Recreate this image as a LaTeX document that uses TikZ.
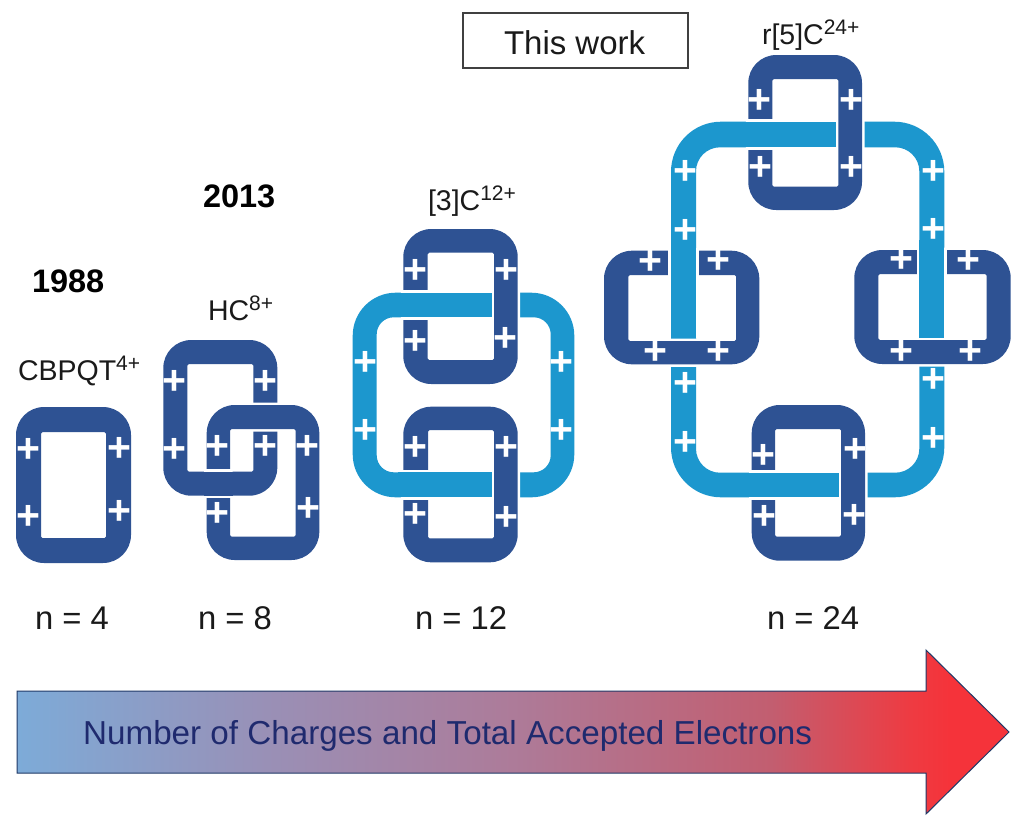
\documentclass[tikz,border=0pt]{standalone}
\usepackage{fontspec}
\setmainfont{Liberation Sans}
\definecolor{ringdark}{HTML}{2E5293}
\definecolor{ringlight}{HTML}{1C97CE}
\definecolor{navytext}{HTML}{1F2A6E}
\definecolor{inktext}{HTML}{1A1A1A}
\definecolor{gradA}{HTML}{7DABD8}
\definecolor{gradB}{HTML}{9A8FB5}
\definecolor{gradC}{HTML}{AD7B99}
\definecolor{gradD}{HTML}{C25E70}
\definecolor{gradE}{HTML}{EE3B42}
\definecolor{gradF}{HTML}{F5333A}
% a shaded path spans only the middle 25bp--75bp of the declared shading
\pgfdeclarehorizontalshading{chargegrad}{100bp}{
  color(0bp)=(gradA);
  color(25bp)=(gradA);
  color(38bp)=(gradB);
  color(50bp)=(gradC);
  color(63bp)=(gradD);
  color(70bp)=(gradE);
  color(72bp)=(gradF);
  color(100bp)=(gradF)}
\tikzset{
  x=1pt,y=-1pt,
  plussign/.style={inner sep=0pt,outer sep=0pt,xshift=0.7pt,text=white,font=\fontsize{41}{41}\selectfont\bfseries},
  textlabel/.style={inner sep=0pt,outer sep=0pt,anchor=base west,text=inktext,font=\fontsize{#1}{#1}\selectfont},
  yearlabel/.style={inner sep=0pt,outer sep=0pt,anchor=base west,text=black,font=\fontsize{32.5}{32.5}\selectfont\bfseries},
  halo/.style={draw=white,line width=5pt},
}
% outer box, outer radius, inner box, inner radius
\newcommand\ringshape[9][ringdark]{%
  \fill[#1,even odd rule,rounded corners=#6] (#2,#3) rectangle (#4,#5) [rounded corners=#7] (#8) rectangle (#9);}
\newcommand\haloshape[7]{%
  \draw[halo,rounded corners=#5] (#1,#2) rectangle (#3,#4) [rounded corners=1.5] (#6) rectangle (#7);}
\newcommand\darkring[6]{%
  \haloshape{#1}{#2}{#3}{#4}{28}{#5}{#6}%
  \ringshape{#1}{#2}{#3}{#4}{28}{1.5}{#5}{#6}}
\newcommand\bareDark[6]{\ringshape{#1}{#2}{#3}{#4}{28}{1.5}{#5}{#6}}
% crossing patch: white margin box, then bar
\newcommand\crosspatch[5][ringlight]{%
  \fill[white] (#2) rectangle (#3);
  \fill[#1] (#4) rectangle (#5);}
\newcommand\supr[1]{\raisebox{0.34em}{\fontsize{21}{21}\selectfont #1}}
\begin{document}
\begin{tikzpicture}
\useasboundingbox (0,0) rectangle (1024,833);
\fill[white] (0,0) rectangle (1024,833);

% CBPQT
\bareDark{16}{407}{131}{563}{41,432}{106,538}
\foreach \px/\py [count=\i] in {27.3/450,118.3/449.3,27.3/517.3,119/512.3}
  \node[plussign] (pa\i) at (\px,\py) {+};

% HC
\bareDark{163.3}{340}{277.3}{495.7}{187.3,364}{253.3,471.7}
\darkring{206.7}{405}{319.3}{560}{230,429}{295.7,536.7}
\crosspatch[ringdark]{205.9,469.2}{231,498.2}{204,471.7}{233,495.7}
\foreach \px/\py [count=\i] in {174/382.7,265/382.7,174/450,216.7/447.3,265/447.3,307/447.3,216.7/514.3,307.7/509.3}
  \node[plussign] (pb\i) at (\px,\py) {+};

% [3]C
\ringshape[ringlight]{352.7}{292.7}{574.3}{497.3}{43}{17}{376.7,317.3}{550.7,472.3}
\darkring{403.3}{229}{517.7}{384}{427.7,252.7}{494,360}
\darkring{403.3}{406.7}{517.7}{562.3}{428,430}{494,538.3}
\crosspatch{403,290}{491.7,320}{398,292.7}{491.7,317.3}
\crosspatch{403,469.5}{491.7,499.7}{398,472.3}{491.7,497.3}
\foreach \px/\py [count=\i] in {414.7/271.7,505.7/271.7,414.7/342.7,505/339.3,364.7/363.3,560.7/363.3,364.7/431,560.7/431,414.7/448.3,505.7/448.3,414.7/515.7,505.7/518.3}
  \node[plussign] (pc\i) at (\px,\py) {+};

% r[5]C
\ringshape[ringlight]{671}{121.7}{944.3}{497.3}{50}{24}{696,147.3}{919.3,472.7}
\darkring{748.3}{55}{862}{210}{772.3,79}{838.3,186.7}
\darkring{751.7}{405}{865}{560.7}{775,429}{841,536.7}
\darkring{604}{250.7}{759.3}{364.3}{628.3,275}{736,341}
\darkring{854.3}{250}{1010.7}{364}{878.3,274}{986.7,340}
\crosspatch{748,119}{835.7,150}{742,121.7}{835.7,147.3}
\crosspatch{751,469.7}{839,500}{745,472.7}{839,497.3}
\crosspatch{668.3,248}{698.6,338.3}{671,240}{696,338.3}
\crosspatch{916.7,247.5}{946.8,337.7}{919.3,240}{944.3,337.7}
\foreach \px/\py [count=\i] in {758.7/101,850.7/101,760/168,850.7/168,684.3/172.7,684.3/231.7,933/172.3,933/230.7,650/262.3,717.3/261.7,900.7/260.7,968/261.7,655/352.7,717.3/352.7,900.7/352.7,970/352.7,684.3/384.3,933/380.7,684.3/443,933/439.3,763/456,854.3/450.7,763.7/517.7,853.3/516.7}
  \node[plussign] (pd\i) at (\px,\py) {+};

% This work box
\draw[draw=black!75,line width=1.2pt] (463,13) rectangle (688,68);
\node[textlabel=33] (thiswork) at (504,54) {This work};

% Labels
\node[textlabel=28.5] (lblr) at (762,44) {r[5]C\supr{24+}};
\node[textlabel=28.5] (lblthree) at (428,210) {[3]C\supr{12+}};
\node[textlabel=28.5] (lblhc) at (208,320) {HC\supr{8+}};
\node[textlabel=28.5] (lblcb) at (18,380) {CBPQT\supr{4+}};
\node[yearlabel] (y1988) at (32,292) {1988};
\node[yearlabel] (y2013) at (203,207) {2013};
\node[textlabel=32.8] (na) at (35,629) {n = 4};
\node[textlabel=32.8] (nb) at (198,629) {n = 8};
\node[textlabel=32.8] (nc) at (415,629) {n = 12};
\node[textlabel=32.8] (nd) at (767,629) {n = 24};

% Gradient arrow
\shade[shading=chargegrad] (17,691) -- (926,691) -- (926,650) -- (1009,732) -- (926,814) -- (926,773) -- (17,773) -- cycle;
\draw[draw=ringdark!70!black,line width=1pt,line join=miter] (17,691) -- (926,691) -- (926,650) -- (1009,732) -- (926,814) -- (926,773) -- (17,773) -- cycle;
\node[inner sep=0pt,anchor=base west,text=navytext,font=\fontsize{33.2}{33.2}\selectfont] (arrowtext) at (83,744) {Number of Charges and Total Accepted Electrons};
\end{tikzpicture}
\end{document}
